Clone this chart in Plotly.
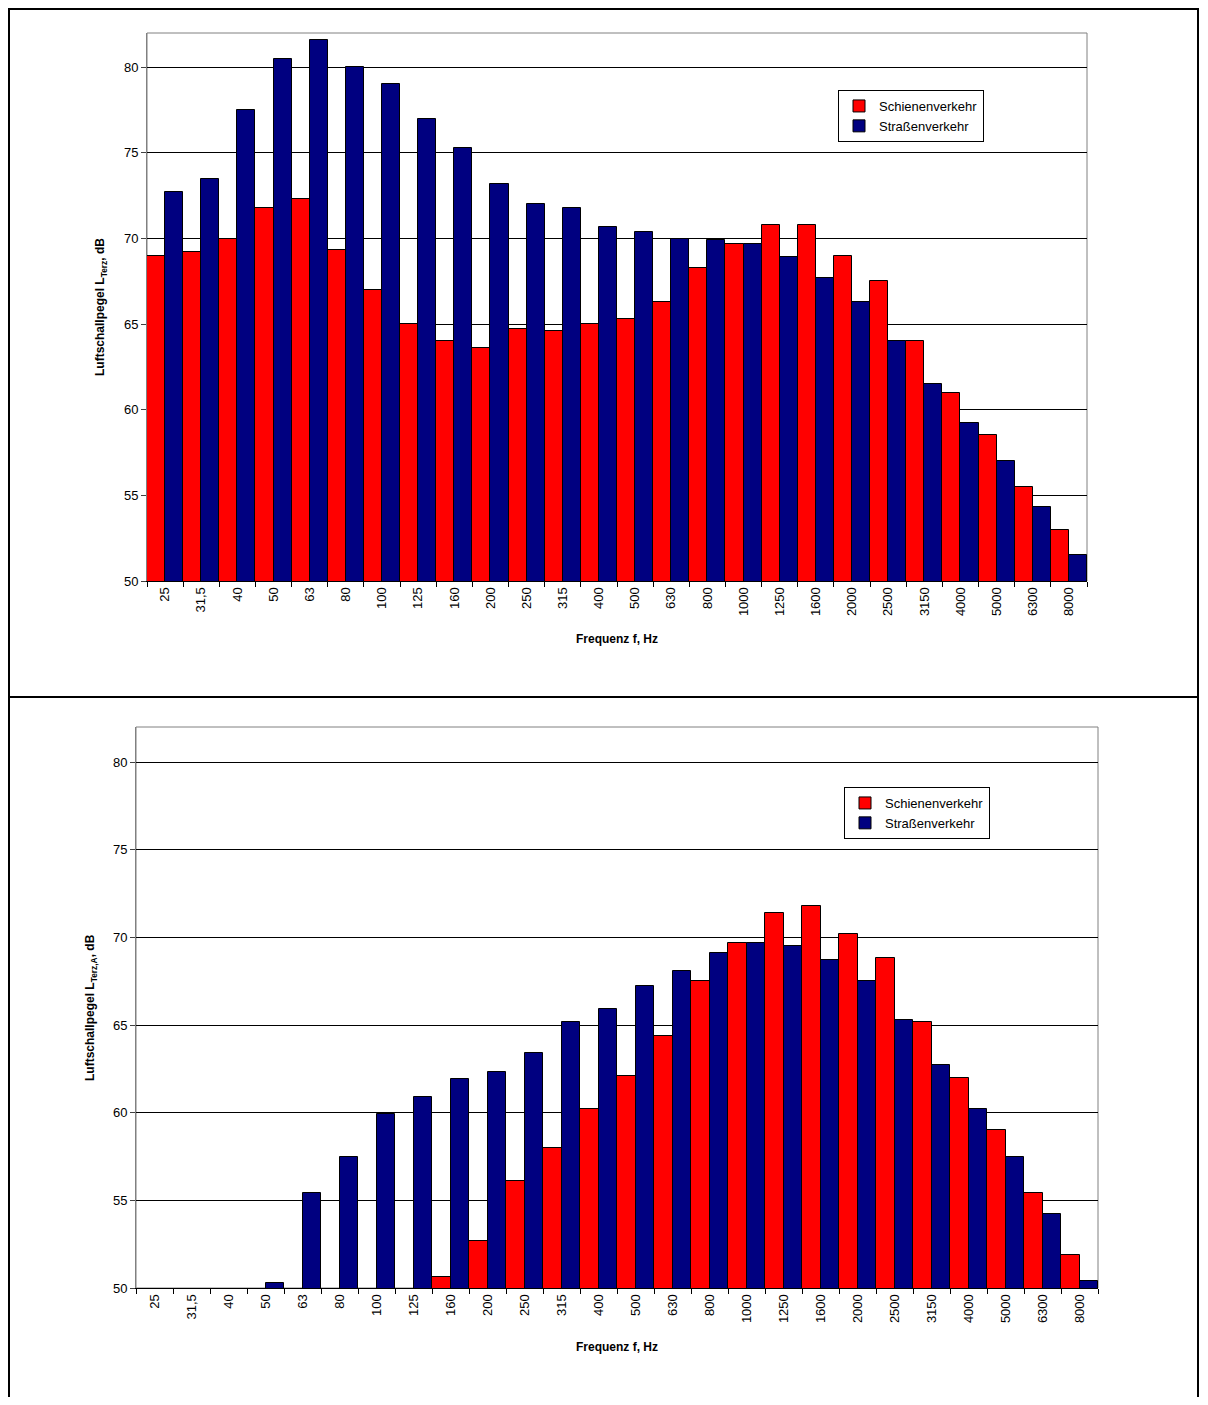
import plotly.graph_objects as go

# ---------------- data ----------------
freq_labels = ["25", "31,5", "40", "50", "63", "80", "100", "125", "160", "200",
               "250", "315", "400", "500", "630", "800", "1000", "1250", "1600",
               "2000", "2500", "3150", "4000", "5000", "6300", "8000"]

# upper chart: L_Terz (unweighted)
schiene_terz = [69.0, 69.2, 70.0, 71.8, 72.3, 69.3, 67.0, 65.0, 64.0, 63.6,
                64.7, 64.6, 65.0, 65.3, 66.3, 68.3, 69.7, 70.8, 70.8,
                69.0, 67.5, 64.0, 61.0, 58.5, 55.5, 53.0]
strasse_terz = [72.7, 73.5, 77.5, 80.5, 81.6, 80.0, 79.0, 77.0, 75.3, 73.2,
                72.0, 71.8, 70.7, 70.4, 70.0, 69.9, 69.7, 68.9, 67.7,
                66.3, 64.0, 61.5, 59.2, 57.0, 54.3, 51.5]

# lower chart: L_Terz,A (A-weighted) - values below 50 dB are not visible
schiene_terz_a = [None, None, None, None, None, None, None, None, 50.6, 52.7,
                  56.1, 58.0, 60.2, 62.1, 64.4, 67.5, 69.7, 71.4, 71.8,
                  70.2, 68.8, 65.2, 62.0, 59.0, 55.4, 51.9]
strasse_terz_a = [None, None, None, 50.3, 55.4, 57.5, 59.9, 60.9, 61.9, 62.3,
                  63.4, 65.2, 65.9, 67.2, 68.1, 69.1, 69.7, 69.5, 68.7,
                  67.5, 65.3, 62.7, 60.2, 57.5, 54.2, 50.4]

series_names = ["Schienenverkehr", "Straßenverkehr"]
series_colors = ["#FF0000", "#000080"]
y_ticks = [50, 55, 60, 65, 70, 75, 80]

# ---------------- layout helpers ----------------
PAGE_W, PAGE_H = 1208, 1405
OFF = 8                      # default body margin of the html page
W, H = PAGE_W - OFF, PAGE_H - 2 * OFF   # avoid a vertical scrollbar
FONT = "Liberation Sans, Arial, sans-serif"


def px(x):
    return (x - OFF) / W


def py(y):
    return 1 - (y - OFF) / H


fig = go.Figure()

for vals, name, col in zip([schiene_terz, strasse_terz], series_names, series_colors):
    fig.add_trace(go.Bar(x=freq_labels, y=vals, name=name, marker_color=col,
                         marker_line=dict(color="black", width=1),
                         xaxis="x", yaxis="y", legend="legend"))

for vals, name, col in zip([schiene_terz_a, strasse_terz_a], series_names, series_colors):
    fig.add_trace(go.Bar(x=freq_labels, y=vals, name=name, marker_color=col,
                         marker_line=dict(color="black", width=1),
                         xaxis="x2", yaxis="y2", legend="legend2"))

tickfont = dict(family=FONT, size=13, color="black")

xcommon = dict(type="category", tickson="boundaries", ticks="outside", ticklen=5,
               tickcolor="black", tickangle=-90, tickfont=tickfont,
               showline=True, linecolor="black", linewidth=1, showgrid=False,
               automargin=False, fixedrange=True)
ycommon = dict(range=[50, 82], tickvals=y_ticks, ticks="outside", ticklen=5,
               tickcolor="#404040", tickfont=tickfont, showline=True,
               linecolor="#808080", linewidth=1, showgrid=True,
               gridcolor="#000000", gridwidth=1, zeroline=False,
               automargin=False, fixedrange=True)

legend_common = dict(xanchor="left", yanchor="top", bordercolor="black",
                     borderwidth=1, bgcolor="white",
                     font=dict(family=FONT, size=13, color="black"),
                     itemwidth=30, tracegroupgap=0)

fig.update_layout(
    width=W, height=H,
    margin=dict(l=0, r=0, t=0, b=0),
    paper_bgcolor="white", plot_bgcolor="white",
    font=dict(family=FONT, size=13, color="black"),
    barmode="group", bargap=0, bargroupgap=0,
    xaxis=dict(domain=[px(147), px(1087)], anchor="y", **xcommon),
    yaxis=dict(domain=[py(581), py(33)], anchor="x", **ycommon),
    xaxis2=dict(domain=[px(136), px(1098)], anchor="y2", **xcommon),
    yaxis2=dict(domain=[py(1288), py(727)], anchor="x2", **ycommon),
    legend=dict(x=px(838), y=py(90), **legend_common),
    legend2=dict(x=px(844), y=py(787), **legend_common),
    showlegend=True,
)

# plot-area borders (grey, Excel style)
for xr, yr in [("x domain", "y domain"), ("x2 domain", "y2 domain")]:
    fig.add_shape(type="rect", xref=xr, yref=yr, x0=0, x1=1, y0=0, y1=1,
                  line=dict(color="#808080", width=1), layer="below")

# outer frames of the two charts
FRAME_R = 1198
fig.add_shape(type="rect", xref="paper", yref="paper",
              x0=1 / W, x1=px(FRAME_R), y0=py(697), y1=1 - 1 / H,
              line=dict(color="black", width=2))
fig.add_shape(type="rect", xref="paper", yref="paper",
              x0=1 / W, x1=px(FRAME_R), y0=py(1420), y1=py(697),
              line=dict(color="black", width=2))

title_font = dict(family=FONT, size=12, color="black")
annots = [
    dict(text="<b>Luftschallpegel L<sub>Terz</sub>, dB</b>", x=px(101), y=py(307),
         textangle=-90),
    dict(text="<b>Frequenz f, Hz</b>", x=px(617), y=py(639), textangle=0),
    dict(text="<b>Luftschallpegel L<sub>Terz,A</sub>, dB</b>", x=px(91), y=py(1008),
         textangle=-90),
    dict(text="<b>Frequenz f, Hz</b>", x=px(617), y=py(1347), textangle=0),
]
for a in annots:
    fig.add_annotation(xref="paper", yref="paper", showarrow=False,
                       xanchor="center", yanchor="middle", font=title_font, **a)

fig.write_html("out.html")
